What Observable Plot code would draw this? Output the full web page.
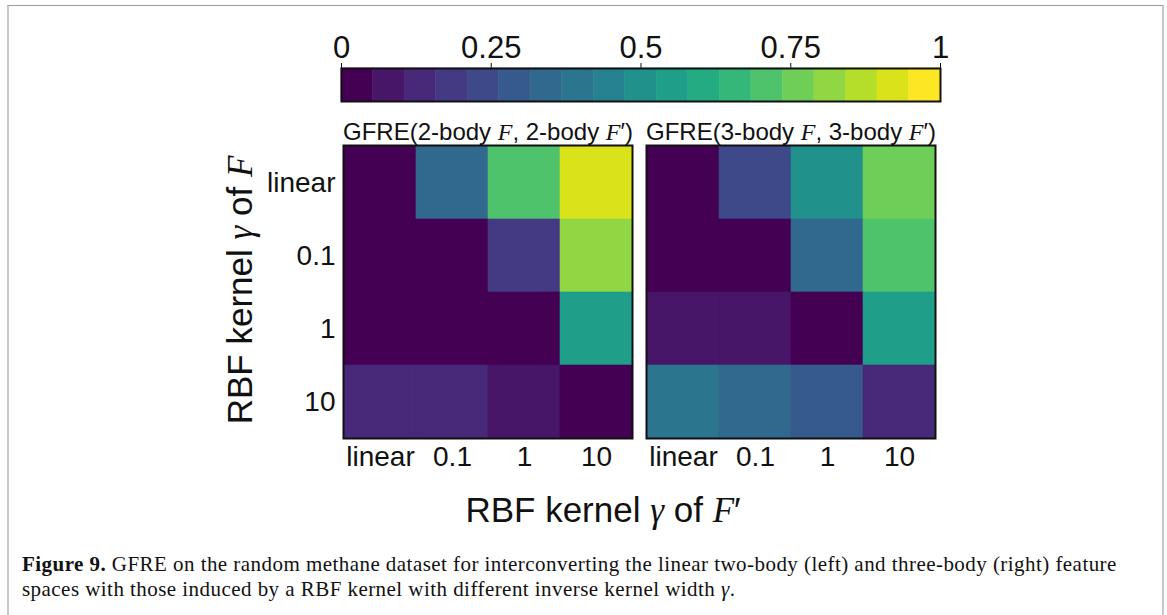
<!DOCTYPE html>
<html><head><meta charset="utf-8">
<script src="https://cdn.jsdelivr.net/npm/d3@7"></script>
<script src="https://cdn.jsdelivr.net/npm/@observablehq/plot@0.6"></script>
<style>
body{margin:0;background:#fff;width:1167px;height:615px;overflow:hidden;position:relative;font-family:'Liberation Sans',Arial,sans-serif;}
#border{position:absolute;left:7px;top:5px;width:1153px;height:640px;border-top:1.5px solid #9a9a9a;border-left:2px solid #c8c8c8;border-right:2px solid #c8c8c8;}
#cbar{position:absolute;left:0;top:0;}
#main{position:absolute;left:0;top:110px;}
#caption{position:absolute;left:22px;top:552px;font-family:'Liberation Serif','DejaVu Serif',serif;font-size:21px;letter-spacing:0.45px;line-height:25px;color:#111;white-space:nowrap;}
svg{display:block;}
</style></head><body>
<div id="border"></div><div id="cbar"></div><div id="main"></div><div id="caption"></div>
<script>
// ---- data ----
const gammaLabels = ["linear", "0.1", "1", "10"];
const panelNames = ["2-body", "3-body"];
// rows: RBF gamma of F ; columns: RBF gamma of F'
const gfre2body = [
  [0.02, 0.34, 0.71, 0.92],
  [0.02, 0.02, 0.18, 0.82],
  [0.02, 0.02, 0.02, 0.55],
  [0.14, 0.12, 0.09, 0.02]
];
const gfre3body = [
  [0.02, 0.23, 0.50, 0.76],
  [0.02, 0.02, 0.34, 0.71],
  [0.08, 0.08, 0.02, 0.55],
  [0.39, 0.34, 0.29, 0.12]
];
const colorbarTicks = [0, 0.25, 0.5, 0.75, 1];
const colorBins = 19;

// ---- helpers ----
const sans = "'Liberation Sans', Arial, sans-serif";
const serif = "'Liberation Serif', 'DejaVu Serif', serif";
const thresholds = d3.range(1, colorBins).map(i => i / colorBins);
const colorOpts = {type: "threshold", domain: thresholds, scheme: "viridis"};

function rich(textSel, parts) {
  textSel.text(null);
  parts.forEach(([s, it]) => {
    const t = textSel.append("tspan").text(s);
    if (it) t.style("font-family", serif).style("font-style", "italic");
  });
}

// ---- colorbar ----
const bins = d3.range(colorBins).map(i => ({x1: i / colorBins, x2: (i + 1) / colorBins, v: (i + 0.5) / colorBins}));
const cbar = Plot.plot({
  width: 1167, height: 110,
  marginLeft: 341, marginRight: 227, marginTop: 68, marginBottom: 9,
  style: {fontSize: "31px", fontFamily: sans, background: "transparent", color: "#111"},
  x: {domain: [0, 1], axis: "top", ticks: colorbarTicks, tickFormat: d => String(d), tickSize: 6, tickPadding: 5, label: null},
  y: {axis: null},
  color: colorOpts,
  marks: [
    Plot.rect(bins, {x1: "x1", x2: "x2", fill: "v", stroke: "v", strokeWidth: 0.5}),
    Plot.frame({stroke: "#111", strokeWidth: 2})
  ]
});
document.getElementById("cbar").append(cbar);

// ---- heatmaps ----
const cells = [];
panelNames.forEach((p, k) => {
  const m = k ? gfre3body : gfre2body;
  gammaLabels.forEach((gf, i) => gammaLabels.forEach((gfp, j) => cells.push({panel: p, f: gf, fp: gfp, v: m[i][j]})));
});
const main = Plot.plot({
  width: 1167, height: 420,
  marginLeft: 343, marginRight: 231, marginTop: 35, marginBottom: 92,
  style: {fontSize: "28px", fontFamily: sans, background: "transparent", color: "#111"},
  fx: {domain: panelNames, paddingInner: 0.046, paddingOuter: 0, axis: "top", tickSize: 0, tickPadding: 6, label: null,
       tickFormat: p => `GFRE(${p} F, ${p} F′)`},
  x: {domain: gammaLabels, padding: 0, tickSize: 0, tickPadding: 8, label: null},
  y: {domain: gammaLabels, padding: 0, tickSize: 0, tickPadding: 8, label: null},
  color: colorOpts,
  marks: [
    Plot.cell(cells, {x: "fp", y: "f", fx: "panel", fill: "v", stroke: "v", strokeWidth: 0.6, inset: 0}),
    Plot.frame({stroke: "#111", strokeWidth: 2})
  ]
});
document.getElementById("main").append(main);

const svg = d3.select(main);
svg.selectAll("text").each(function() {
  const s = d3.select(this);
  const txt = this.textContent;
  const p = panelNames.find(n => txt.startsWith("GFRE(" + n));
  if (p) {
    s.style("font-size", "24px");
    rich(s, [["GFRE(" + p + " ", false], ["F", true], [", " + p + " ", false], ["F", true], ["′)", false]]);
  }
});

// axis labels
const xl = svg.append("text").attr("x", 603).attr("y", 412).attr("text-anchor", "middle")
  .style("font-size", "35px").style("font-family", sans).attr("fill", "#111");
rich(xl, [["RBF kernel ", false], ["γ", true], [" of ", false], ["F", true], ["′", false]]);
const yl = svg.append("text").attr("transform", "translate(252,180) rotate(-90)").attr("text-anchor", "middle")
  .style("font-size", "35px").style("font-family", sans).attr("fill", "#111");
rich(yl, [["RBF kernel ", false], ["γ", true], [" of ", false], ["F", true]]);

// caption
document.getElementById("caption").innerHTML =
  "<b>Figure 9.</b> GFRE on the random methane dataset for interconverting the linear two-body (left) and three-body (right) feature<br>" +
  "spaces with those induced by a RBF kernel with different inverse kernel width <i>γ</i>.";
</script>
</body></html>
